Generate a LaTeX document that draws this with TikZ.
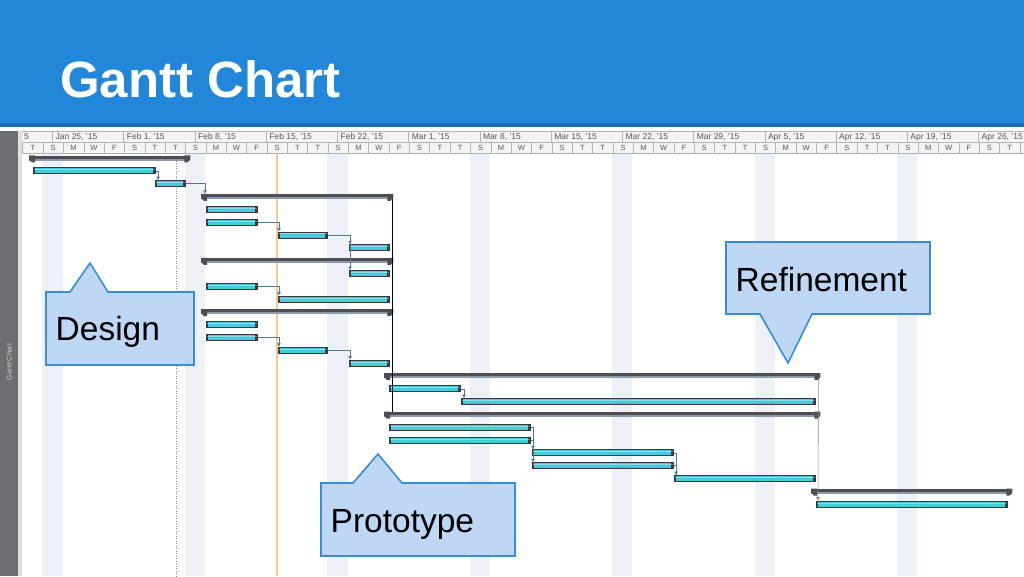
\documentclass[tikz,border=0pt]{standalone}
\usepackage{fontspec}
\setmainfont{Liberation Sans}
\usetikzlibrary{arrows.meta}

\definecolor{headblue}{RGB}{34,134,217}
\definecolor{headline}{RGB}{27,110,181}
\definecolor{sidegray}{RGB}{109,110,113}
\definecolor{gridgray}{RGB}{180,180,180}
\definecolor{tierfill}{RGB}{243,243,243}
\definecolor{weekend}{RGB}{237,241,247}
\definecolor{barcyan}{RGB}{72,202,216}
\definecolor{bardark}{RGB}{55,58,62}
\definecolor{sumdark}{RGB}{78,78,82}
\definecolor{sumlight}{RGB}{140,152,172}
\definecolor{linkteal}{RGB}{80,125,130}
\definecolor{statusorange}{RGB}{247,196,160}
\definecolor{calloutfill}{RGB}{189,215,245}
\definecolor{calloutedge}{RGB}{58,140,215}

\tikzset{
  task/.style={draw=bardark, line width=0.8pt, fill=barcyan, minimum height=6pt,
    inner sep=0pt, anchor=west,
    path picture={
      \fill[bardark] (path picture bounding box.south west) rectangle ([xshift=2pt]path picture bounding box.north west);
      \fill[bardark] (path picture bounding box.south east) rectangle ([xshift=-2pt]path picture bounding box.north east);
      \fill[white, opacity=0.35] ([yshift=-1.5pt]path picture bounding box.north west) rectangle ([yshift=-2.5pt]path picture bounding box.north east);
    }},
  summary/.style={fill=sumdark, minimum height=5pt, inner sep=0pt, anchor=west,
    path picture={
      \fill[sumlight] (path picture bounding box.south west) rectangle ([yshift=2pt]path picture bounding box.south east);
    }},
  link/.style={linkteal, line width=0.6pt, -{Latex[length=3.5pt,width=4pt]}},
  weeklbl/.style={anchor=west, inner sep=0pt, text=black!65, font=\fontsize{8.5}{9}\selectfont},
  daylbl/.style={inner sep=0pt, text=black!65, font=\fontsize{7.5}{8}\selectfont},
  callout/.style={fill=calloutfill, draw=calloutedge, line width=1.6pt, line join=miter},
  calltext/.style={anchor=base west, inner sep=0pt, font=\fontsize{33.5}{40}\selectfont}
}

\begin{document}
\begin{tikzpicture}[x=1pt, y=-1pt]
  \useasboundingbox (0,0) rectangle (1024,576);

  % title band
  \fill[headblue] (0,0) rectangle (1024,123);
  \fill[headline] (0,123) rectangle (1024,127);
  \node[anchor=base west, inner sep=0pt, text=white, font=\bfseries\fontsize{51}{51}\selectfont] (title) at (60,97) {Gantt Chart};

  % side strip
  \fill[sidegray] (0,131) rectangle (18,576);
  \fill[black!12] (18,131) rectangle (22,576);
  \node[rotate=90, inner sep=0pt, text=black!18, font=\fontsize{7}{7}\selectfont] (side) at (9,362) {Gantt Chart};

  % weekend bands
  \foreach \k in {0,...,6}
    \fill[weekend] (42.3+142.46*\k,153) rectangle (62.6+142.46*\k,576);

  % timescale
  \fill[tierfill] (22,131) rectangle (1024,153);
  \draw[gridgray, line width=0.5pt] (22,131) -- (1024,131) (22,142) -- (1024,142) (22,153) -- (1024,153);
  \node[weeklbl] (w0) at (24,137) {5};
  \foreach \w [count=\k from 0] in {{Jan 25},{Feb 1},{Feb 8},{Feb 15},{Feb 22},{Mar 1},{Mar 8},
      {Mar 15},{Mar 22},{Mar 29},{Apr 5},{Apr 12},{Apr 19},{Apr 26}} {
    \draw[gridgray, line width=0.5pt] (52.5+71.23*\k,131) -- (52.5+71.23*\k,142);
    \node[weeklbl] (w\k) at (55.5+71.23*\k,137) {\w, '15};
  }
  \foreach \p in {0,...,6}
    \foreach \lt [count=\i from 0] in {T,S,M,W,F,S,T} {
      \draw[gridgray, line width=0.5pt] (22.7+20.35*7*\p+20.35*\i,142) -- (22.7+20.35*7*\p+20.35*\i,153);
      \node[daylbl] (d\p-\i) at (32.9+20.35*7*\p+20.35*\i,147.8) {\lt};
    }
  \draw[gridgray, line width=0.5pt] (1019.9,142) -- (1019.9,153);

  % date lines
  \draw[black!45, line width=0.5pt, dash pattern=on 1pt off 1.5pt] (176,153) -- (176,576);
  \draw[statusorange, line width=1.2pt] (277,153) -- (277,576);

  % bars
  \node[summary, minimum width=161pt] (s1) at (29,158.0) {};
  \node[task, minimum width=122pt] (t2) at (33,170.8) {};
  \node[task, minimum width=30pt] (t3) at (155,183.6) {};
  \node[summary, minimum width=192pt] (s4) at (201,196.5) {};
  \node[task, minimum width=51pt] (t5) at (206,209.3) {};
  \node[task, minimum width=51pt] (t6) at (206,222.1) {};
  \node[task, minimum width=49pt] (t7) at (278,234.9) {};
  \node[task, minimum width=40pt] (t8) at (349,247.7) {};
  \node[summary, minimum width=192pt] (s9) at (201,260.6) {};
  \node[task, minimum width=40pt] (t10) at (349,273.4) {};
  \node[task, minimum width=51pt] (t11) at (206,286.2) {};
  \node[task, minimum width=111pt] (t12) at (278,299.0) {};
  \node[summary, minimum width=192pt] (s13) at (201,311.8) {};
  \node[task, minimum width=51pt] (t14) at (206,324.7) {};
  \node[task, minimum width=51pt] (t15) at (206,337.5) {};
  \node[task, minimum width=49pt] (t16) at (278,350.3) {};
  \node[task, minimum width=40pt] (t17) at (349,363.1) {};
  \node[summary, minimum width=436pt] (s18) at (384,375.9) {};
  \node[task, minimum width=71pt] (t19) at (389,388.8) {};
  \node[task, minimum width=354pt] (t20) at (461,401.6) {};
  \node[summary, minimum width=436pt] (s21) at (384,414.4) {};
  \node[task, minimum width=141pt] (t22) at (389,427.2) {};
  \node[task, minimum width=141pt] (t23) at (389,440.0) {};
  \node[task, minimum width=141pt] (t24) at (532,452.8) {};
  \node[task, minimum width=141pt] (t25) at (532,465.7) {};
  \node[task, minimum width=141pt] (t26) at (674,478.5) {};
  \node[summary, minimum width=201pt] (s27) at (811,491.3) {};
  \node[task, minimum width=191pt] (t28) at (816,504.1) {};

  % summary end caps
  \foreach \s in {s1,s4,s9,s13,s18,s21,s27} {
    \fill[sumdark] (\s.north west) -- ++(6,0) -- ++(0,7) -- ++(-3,0) -- ++(-3,-3) -- cycle;
    \fill[sumdark] (\s.north east) -- ++(-6,0) -- ++(0,7) -- ++(3,0) -- ++(3,-3) -- cycle;
  }

  % links
  \draw[link] (t2.east) -| ([xshift=3pt]t3.north west);
  \draw[link] (t3.east) -| ([xshift=4pt]s4.north west);
  \draw[link] (t6.east) -| ([xshift=1pt]t7.north west);
  \draw[link] (t7.east) -| ([xshift=1pt]t8.north west);
  \draw[link] (t7.east) -| ([xshift=1pt]t10.north west);
  \draw[link] (t11.east) -| ([xshift=1pt]t12.north west);
  \draw[link] (t15.east) -| ([xshift=1pt]t16.north west);
  \draw[link] (t16.east) -| ([xshift=1pt]t17.north west);
  \draw[link] (t19.east) -| ([xshift=3pt]t20.north west);
  \draw[link] (t22.east) -| ([xshift=1pt]t24.north west);
  \draw[link] (t22.east) -| ([xshift=1pt]t25.north west);
  \draw[linkteal, line width=0.6pt] (t23.east) -| ([xshift=1pt]t24.south west);
  \draw[link] (t24.east) -| ([xshift=2pt]t26.north west);
  \draw[linkteal, line width=0.6pt] (t25.east) -| ([xshift=2pt]t26.north west);
  \draw[black!80!blue, line width=0.8pt] ([xshift=-1pt]s4.south east) -- ([xshift=-1pt]s4.south east |- s21.north);
  \draw[link, black!45] ([xshift=-2pt]s18.south east) -- ([xshift=2pt]t28.north west);

  % callouts
  \draw[callout] (46,292) -- (70,292) -- (90,263) -- (108,292) -- (194,292) -- (194,365) -- (46,365) -- cycle;
  \node[calltext] (design) at (55.5,340) {Design};
  \draw[callout] (726,242) -- (930,242) -- (930,314) -- (812,314) -- (788,363) -- (760,314) -- (726,314) -- cycle;
  \node[calltext] (refine) at (735.5,291) {Refinement};
  \draw[callout] (321,483) -- (353,483) -- (378,454) -- (402,483) -- (515,483) -- (515,556) -- (321,556) -- cycle;
  \node[calltext] (proto) at (330.5,532) {Prototype};
\end{tikzpicture}
\end{document}
